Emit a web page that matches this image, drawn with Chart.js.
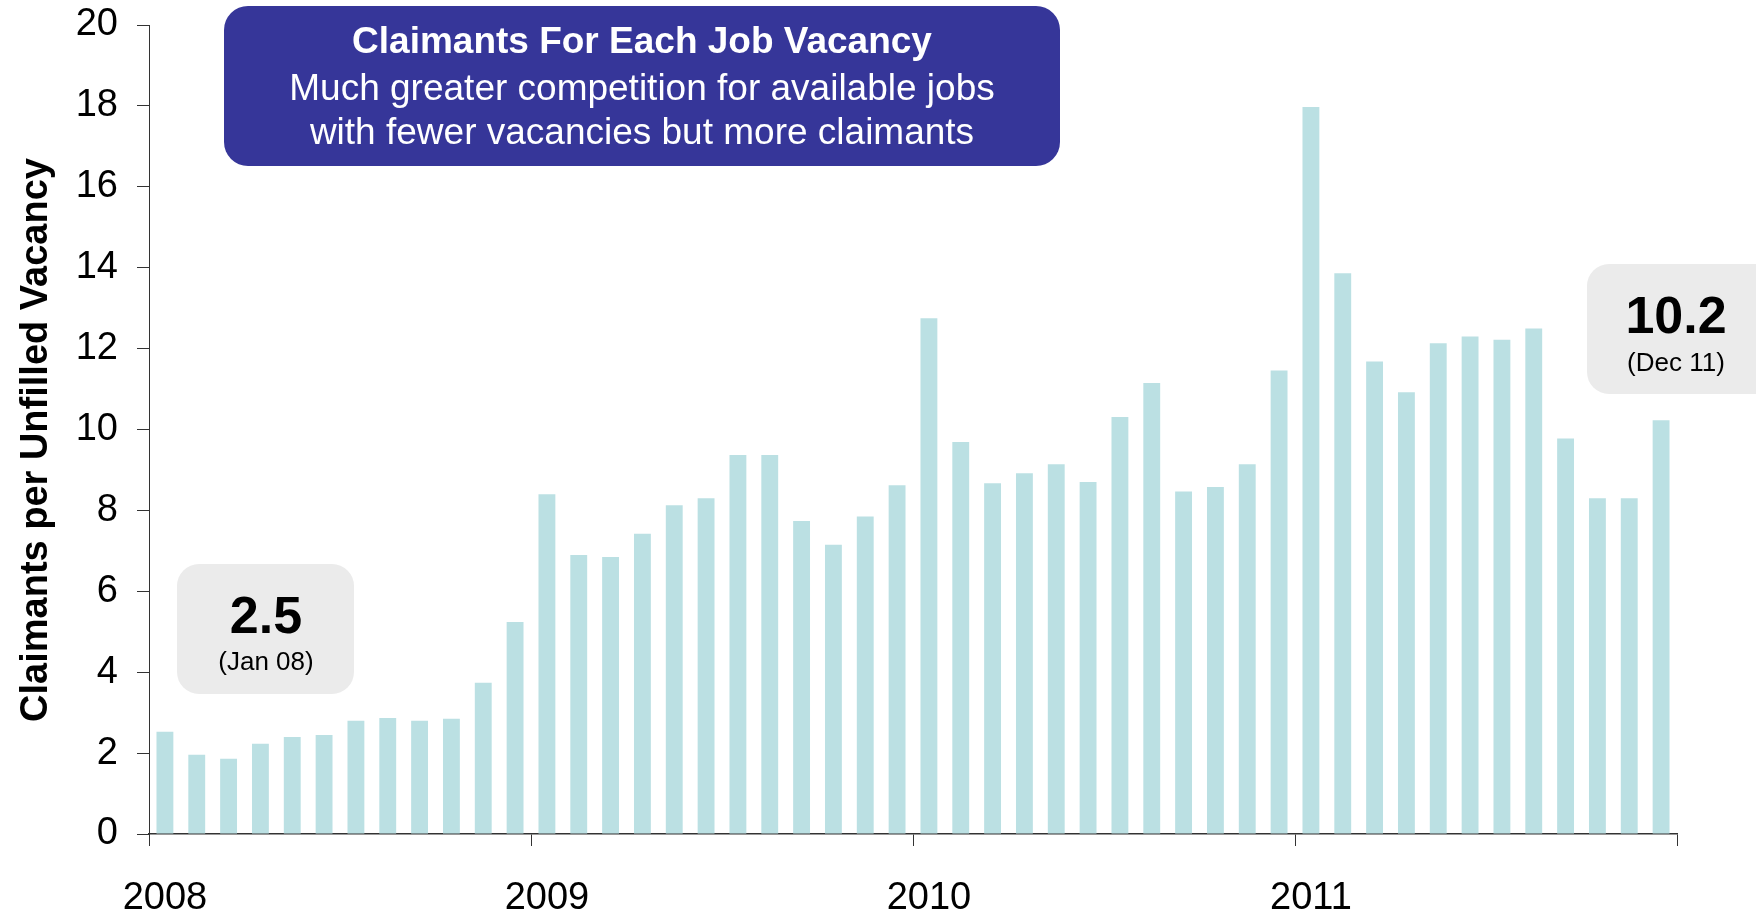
<!DOCTYPE html>
<html>
<head>
<meta charset="utf-8">
<script src="https://cdn.jsdelivr.net/npm/chart.js@4.4.0/dist/chart.umd.min.js"></script>
<style>
  html, body { margin: 0; padding: 0; background: #fff; }
  canvas { display: block; }
</style>
</head>
<body>
<canvas id="grafico" width="1756" height="913"></canvas>
<script>
// Datos: solicitantes por vacante sin cubrir, mensual 2008-2011
const years = ["2008", "2009", "2010", "2011"];
const months = ["Jan", "Feb", "Mar", "Apr", "May", "Jun", "Jul", "Aug", "Sep", "Oct", "Nov", "Dec"];
const claims2008 = [2.53, 1.96, 1.86, 2.23, 2.40, 2.45, 2.80, 2.87, 2.80, 2.85, 3.74, 5.24];
const claims2009 = [8.40, 6.90, 6.85, 7.42, 8.13, 8.30, 9.37, 9.37, 7.74, 7.15, 7.85, 8.62];
const claims2010 = [12.75, 9.69, 8.67, 8.92, 9.14, 8.70, 10.31, 11.15, 8.47, 8.58, 9.14, 11.46];
const claims2011 = [17.97, 13.86, 11.68, 10.92, 12.13, 12.30, 12.22, 12.50, 9.78, 8.30, 8.30, 10.23];
const yTicks = [0, 20, 2]; // min, max, paso

const axisTitle = "Claimants per Unfilled Vacancy";
const titleLines = [
  "Claimants For Each Job Vacancy",
  "Much greater competition for available jobs",
  "with fewer vacancies but more claimants",
];
const calloutValues = ["2.5", "10.2"];
const calloutDates = ["(Jan 08)", "(Dec 11)"];

// Se arman las etiquetas y la serie completa
const labels = [];
years.forEach(function (y) {
  months.forEach(function (m) {
    labels.push(m + " " + y.slice(2));
  });
});
const values = [].concat(claims2008, claims2009, claims2010, claims2011);

const familia = '"Liberation Sans", Arial, sans-serif';
const colorEje = "#333333";

// Rectángulo con esquinas redondeadas
function caja(ctx, x, y, w, h, r, color) {
  ctx.beginPath();
  ctx.moveTo(x + r, y);
  ctx.arcTo(x + w, y, x + w, y + h, r);
  ctx.arcTo(x + w, y + h, x, y + h, r);
  ctx.arcTo(x, y + h, x, y, r);
  ctx.arcTo(x, y, x + w, y, r);
  ctx.closePath();
  ctx.fillStyle = color;
  ctx.fill();
}

// Plugin para el recuadro del título, las notas y el título del eje
const notas = {
  id: "notas",
  afterDraw(chart) {
    const ctx = chart.ctx;
    ctx.save();

    // Recuadro del título
    caja(ctx, 224, 6, 836, 160, 24, "#363699");
    ctx.fillStyle = "#ffffff";
    ctx.textAlign = "center";
    ctx.textBaseline = "alphabetic";
    ctx.font = "bold 37px " + familia;
    ctx.fillText(titleLines[0], 642, 53);
    ctx.font = "37px " + familia;
    ctx.fillText(titleLines[1], 642, 100);
    ctx.fillText(titleLines[2], 642, 144);

    // Nota izquierda (Jan 08)
    caja(ctx, 177, 564, 177, 130, 22, "#ebebeb");
    ctx.fillStyle = "#000000";
    ctx.font = "bold 52px " + familia;
    ctx.fillText(calloutValues[0], 266, 633);
    ctx.font = "26px " + familia;
    ctx.fillText(calloutDates[0], 266, 670);

    // Nota derecha (Dec 11)
    caja(ctx, 1587, 264, 190, 130, 22, "#ebebeb");
    ctx.fillStyle = "#000000";
    ctx.font = "bold 52px " + familia;
    ctx.fillText(calloutValues[1], 1676, 333);
    ctx.font = "26px " + familia;
    ctx.fillText(calloutDates[1], 1676, 371);

    // Título del eje Y
    ctx.translate(47, 440);
    ctx.rotate(-Math.PI / 2);
    ctx.font = "bold 38px " + familia;
    ctx.fillText(axisTitle, 0, 0);
    ctx.restore();
  },
};

const ctx = document.getElementById("grafico").getContext("2d");
const grafico = new Chart(ctx, {
  type: "bar",
  data: {
    labels: labels,
    datasets: [
      {
        label: axisTitle,
        data: values,
        backgroundColor: "#bbe0e3",
        borderWidth: 0,
        categoryPercentage: 1,
        barPercentage: 0.53,
      },
    ],
  },
  options: {
    responsive: false,
    animation: false,
    layout: {
      padding: { top: 25, right: 79, bottom: 0, left: 0 },
    },
    plugins: {
      legend: { display: false },
      tooltip: { enabled: false },
    },
    scales: {
      x: {
        offset: true,
        grid: {
          offset: true,
          drawOnChartArea: false,
          tickLength: 12,
          // Solo marcas en el cambio de año
          color: function (c) {
            return c.index === undefined || c.index % 12 === 0 ? colorEje : "rgba(0,0,0,0)";
          },
        },
        border: { display: true, color: colorEje, width: 1.5 },
        ticks: {
          autoSkip: false,
          maxRotation: 0,
          padding: 30,
          color: "#000000",
          font: { family: familia, size: 38 },
          callback: function (val, i) {
            return i % 12 === 0 ? years[i / 12] : "";
          },
        },
        afterFit: function (scale) {
          scale.height = 79;
        },
      },
      y: {
        min: yTicks[0],
        max: yTicks[1],
        grid: {
          drawOnChartArea: false,
          tickLength: 12,
          color: colorEje,
        },
        border: { display: true, color: colorEje, width: 1 },
        ticks: {
          stepSize: yTicks[2],
          padding: 19,
          color: "#000000",
          font: { family: familia, size: 38 },
        },
        afterFit: function (scale) {
          scale.width = 149;
          // el margen superior lo fija layout.padding
          scale.paddingTop = 0;
          scale.paddingBottom = 0;
        },
      },
    },
  },
  plugins: [notas],
});
</script>
</body>
</html>
